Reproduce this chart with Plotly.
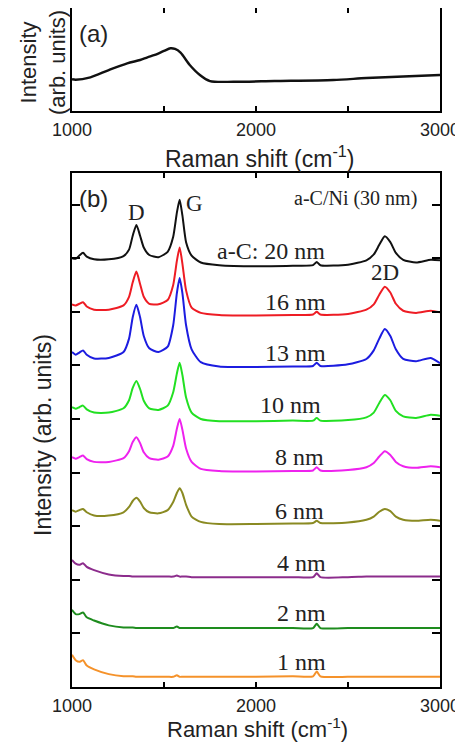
import plotly.graph_objects as go

# ---------------- Panel (a): a-C/Ni spectrum ----------------
a_x = [1000, 1020, 1100, 1200, 1300, 1370, 1410, 1450, 1500, 1535, 1560, 1590,
       1640, 1695, 1750, 1880, 2100, 2420, 2600, 2800, 3000]
a_y = [0.308, 0.303, 0.327, 0.398, 0.463, 0.495, 0.521, 0.544, 0.583, 0.609, 0.602, 0.566,
       0.447, 0.350, 0.291, 0.284, 0.291, 0.301, 0.320, 0.335, 0.350]

# ---------------- Panel (b): a-C thickness series ----------------
b_x = [1000, 1020, 1040, 1060, 1080, 1120, 1200, 1280, 1310, 1330,
       1350, 1370, 1390, 1420, 1470, 1520, 1550, 1570, 1585, 1600,
       1620, 1650, 1700, 1800, 2000, 2200, 2310, 2330, 2350, 2500,
       2600, 2640, 2670, 2700, 2730, 2760, 2800, 2870, 2950, 3000]

s20 = [8.00, 7.99, 8.05, 8.10, 8.03, 7.98, 7.98, 8.04, 8.16, 8.42,
       8.62, 8.42, 8.20, 8.06, 8.02, 8.12, 8.40, 8.85, 9.09, 8.80,
       8.30, 8.05, 7.92, 7.87, 7.85, 7.86, 7.87, 7.93, 7.87, 7.88,
       7.96, 8.07, 8.25, 8.41, 8.30, 8.10, 7.97, 7.92, 7.97, 7.96]
s16 = [7.14, 7.12, 7.15, 7.18, 7.10, 7.04, 7.04, 7.12, 7.28, 7.55,
       7.75, 7.52, 7.28, 7.15, 7.14, 7.22, 7.50, 7.95, 8.20, 7.90,
       7.40, 7.08, 6.98, 6.94, 6.93, 6.94, 6.95, 7.00, 6.95, 6.96,
       7.04, 7.14, 7.32, 7.47, 7.36, 7.15, 7.02, 6.98, 7.02, 6.99]
s13 = [6.25, 6.20, 6.24, 6.28, 6.20, 6.13, 6.14, 6.25, 6.50, 6.90,
       7.13, 6.90, 6.55, 6.32, 6.25, 6.35, 6.75, 7.35, 7.63, 7.35,
       6.75, 6.30, 6.06, 5.98, 5.97, 5.98, 5.99, 6.05, 5.99, 6.02,
       6.12, 6.28, 6.50, 6.68, 6.55, 6.30, 6.12, 6.08, 6.14, 6.04]
s10 = [5.22, 5.19, 5.22, 5.25, 5.18, 5.12, 5.12, 5.20, 5.35, 5.58,
       5.71, 5.56, 5.34, 5.20, 5.17, 5.25, 5.50, 5.85, 6.05, 5.82,
       5.40, 5.12, 5.00, 4.96, 4.96, 4.97, 4.97, 5.02, 4.97, 4.98,
       5.03, 5.12, 5.30, 5.45, 5.35, 5.15, 5.05, 5.02, 5.08, 5.06]
s8 = [4.29, 4.26, 4.29, 4.32, 4.25, 4.20, 4.20, 4.27, 4.40, 4.57,
      4.66, 4.55, 4.38, 4.27, 4.24, 4.30, 4.50, 4.82, 5.00, 4.80,
      4.45, 4.20, 4.07, 4.03, 4.02, 4.03, 4.04, 4.10, 4.04, 4.05,
      4.10, 4.18, 4.30, 4.40, 4.33, 4.20, 4.12, 4.09, 4.12, 4.10]
s6 = [3.30, 3.27, 3.30, 3.32, 3.26, 3.20, 3.20, 3.26, 3.36, 3.47,
      3.53, 3.46, 3.34, 3.26, 3.24, 3.30, 3.45, 3.62, 3.71, 3.62,
      3.40, 3.18, 3.08, 3.04, 3.04, 3.05, 3.06, 3.10, 3.06, 3.07,
      3.12, 3.18, 3.27, 3.32, 3.28, 3.18, 3.12, 3.10, 3.12, 3.10]
s4 = [2.37, 2.30, 2.28, 2.31, 2.24, 2.18, 2.10, 2.07, 2.07, 2.06,
      2.06, 2.06, 2.06, 2.06, 2.06, 2.06, 2.06, 2.08, 2.06, 2.06,
      2.06, 2.05, 2.05, 2.05, 2.05, 2.05, 2.05, 2.12, 2.05, 2.05,
      2.06, 2.06, 2.06, 2.06, 2.06, 2.06, 2.06, 2.06, 2.06, 2.06]
s2 = [1.44, 1.36, 1.36, 1.39, 1.30, 1.24, 1.15, 1.11, 1.11, 1.11,
      1.10, 1.10, 1.10, 1.10, 1.10, 1.10, 1.10, 1.13, 1.10, 1.10,
      1.10, 1.10, 1.10, 1.10, 1.10, 1.10, 1.10, 1.18, 1.10, 1.10,
      1.10, 1.10, 1.10, 1.10, 1.10, 1.10, 1.10, 1.10, 1.10, 1.10]
s1 = [0.60, 0.50, 0.47, 0.50, 0.40, 0.33, 0.24, 0.20, 0.20, 0.20,
      0.19, 0.19, 0.19, 0.19, 0.19, 0.19, 0.19, 0.22, 0.19, 0.19,
      0.19, 0.19, 0.19, 0.19, 0.19, 0.20, 0.20, 0.29, 0.20, 0.19,
      0.19, 0.19, 0.19, 0.19, 0.19, 0.19, 0.19, 0.19, 0.19, 0.19]

series = [s20, s16, s13, s10, s8, s6, s4, s2, s1]
labels = ["a-C: 20 nm", "16 nm", "13 nm", "10 nm", "8 nm", "6 nm", "4 nm", "2 nm", "1 nm"]
colors = ["#111111", "#ee1c24", "#1c1ce0", "#22e022", "#ee22ee", "#8a8a22",
          "#8c2c8c", "#1e8c1e", "#f5922a"]

x_major_ticks = [1000, 2000, 3000]
x_minor_ticks = [1500, 2500]
y_ticks_b = [0, 1, 2, 3, 4, 5, 6, 7, 8, 9]

SANS = "Liberation Sans, Arial, sans-serif"
SERIF = "Liberation Serif, Times New Roman, serif"

# the page has an 8px body margin; the figure fills the rest of the window
OFF = 8
W, H = 463 - OFF, 743 - OFF


def px(x):
    return (x - OFF) / W


def py(y):
    return 1 - (y - OFF) / H


fig = go.Figure()
fig.add_trace(go.Scatter(x=a_x, y=a_y, mode="lines", xaxis="x", yaxis="y",
                         line=dict(color="#111111", width=2.4, shape="spline", smoothing=0.8)))
for s, c in zip(series, colors):
    fig.add_trace(go.Scatter(x=b_x, y=s, mode="lines", xaxis="x2", yaxis="y2",
                             line=dict(color=c, width=2.0, shape="spline", smoothing=0.6)))

xdom = [px(72), px(440)]
common_x = dict(range=[1000, 3000], tickvals=x_major_ticks, ticks="inside",
                ticklen=5, tickwidth=1.5, tickcolor="black", mirror="ticks", showline=True,
                minor=dict(tickvals=x_minor_ticks, ticks="inside", ticklen=5, tickwidth=1.5,
                           tickcolor="black", showgrid=False),
                linecolor="black", linewidth=1.5, showgrid=False, zeroline=False, automargin=False,
                tickfont=dict(family=SANS, size=18, color="#222"), ticklabelstandoff=2)

fig.update_layout(
    template="none",
    width=W, height=H, margin=dict(l=0, r=0, t=0, b=0, pad=0), autosize=False,
    paper_bgcolor="white", plot_bgcolor="white", showlegend=False,
    xaxis=dict(domain=xdom, anchor="y", **common_x),
    yaxis=dict(domain=[py(111), py(8)], anchor="x", range=[0, 1], showticklabels=False,
               ticks="", showline=True, mirror=True, linecolor="black", linewidth=1.5,
               showgrid=False, zeroline=False, automargin=False),
    xaxis2=dict(domain=xdom, anchor="y2", **common_x),
    yaxis2=dict(domain=[py(687), py(173)], anchor="x2", range=[0, 9.59],
                tickvals=y_ticks_b, showticklabels=False, ticks="inside", ticklen=8,
                tickwidth=1.5, tickcolor="black", mirror="ticks", showline=True,
                linecolor="black", linewidth=1.5, showgrid=False, zeroline=False, automargin=False),
)


def pann(text, x, y, size, family=SANS, angle=0):
    return dict(text=text, xref="paper", yref="paper", x=px(x), y=py(y), xanchor="center",
                yanchor="middle", textangle=angle, showarrow=False,
                font=dict(family=family, size=size, color="#222"))


ann = []
# axis titles and panel letters
ann.append(pann("Raman shift (cm<sup>-1</sup>)", 259, 157, 23))
ann.append(pann("Raman shift (cm<sup>-1</sup>)", 257, 728, 22))
ann.append(pann("Intensity<br>(arb. units)", 43, 63, 22, angle=-90))
ann.append(pann("Intensity (arb. units)", 43, 435, 23, angle=-90))
ann.append(pann("(a)", 93, 33, 24))
ann.append(pann("(b)", 93, 198, 24))
# panel (b) text
ann.append(dict(text="a-C/Ni (30 nm)", xref="x2", yref="y2", x=2886, y=9.12, xanchor="right",
                yanchor="middle", showarrow=False, font=dict(family=SERIF, size=20, color="#222")))
for t, lx, ly in [("D", 1348, 8.86), ("G", 1668, 9.03), ("2D", 2701, 7.74)]:
    ann.append(dict(text=t, xref="x2", yref="y2", x=lx, y=ly, xanchor="center", yanchor="middle",
                    showarrow=False, font=dict(family=SERIF, size=23, color="#222")))
label_pos = [(2081, 8.13), (2212, 7.18), (2212, 6.23), (2190, 5.26), (2239, 4.29),
             (2239, 3.28), (2245, 2.31), (2245, 1.38), (2245, 0.47)]
for t, (lx, ly) in zip(labels, label_pos):
    ann.append(dict(text=t, xref="x2", yref="y2", x=lx, y=ly, xanchor="center", yanchor="middle",
                    showarrow=False, font=dict(family=SERIF, size=24, color="#222")))
fig.update_layout(annotations=ann)

fig.write_html("out.html")
